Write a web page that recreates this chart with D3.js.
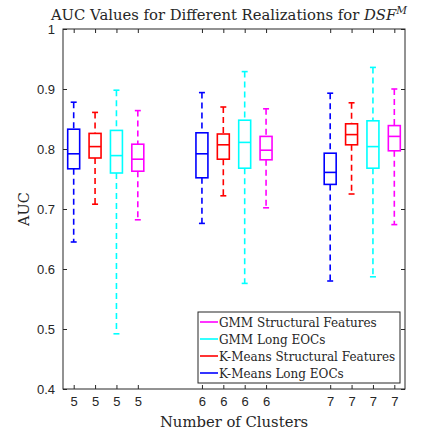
<!DOCTYPE html>
<meta charset="utf-8">
<style>
body { margin: 0; background: #fff; }
.tick text { font-family: "Liberation Sans", Arial, sans-serif; font-size: 13px; fill: #262626; }
.lbl { font-family: "DejaVu Serif", "Liberation Serif", serif; fill: #262626; }
</style>
<svg width="421" height="436"></svg>
<script src="https://d3js.org/d3.v7.min.js"></script>
<script>
var clusters = ["5", "6", "7"];
var series = ["K-Means Long EOCs", "K-Means Structural Features", "GMM Long EOCs", "GMM Structural Features"];
var colors = ["#0000ff", "#ff0000", "#00ffff", "#ff00ff"];
// [lower whisker, q1, median, q3, upper whisker] per cluster, per series
var kmLong = [[0.645, 0.767, 0.792, 0.833, 0.878], [0.676, 0.752, 0.792, 0.827, 0.894], [0.580, 0.741, 0.761, 0.793, 0.893]];
var kmStruct = [[0.708, 0.785, 0.804, 0.826, 0.861], [0.722, 0.783, 0.807, 0.825, 0.870], [0.725, 0.807, 0.824, 0.842, 0.877]];
var gmmLong = [[0.492, 0.760, 0.789, 0.831, 0.898], [0.576, 0.768, 0.811, 0.848, 0.929], [0.587, 0.768, 0.804, 0.847, 0.936]];
var gmmStruct = [[0.682, 0.763, 0.783, 0.808, 0.864], [0.702, 0.782, 0.798, 0.821, 0.867], [0.674, 0.797, 0.821, 0.839, 0.900]];
var yTicks = [0.4, 0.5, 0.6, 0.7, 0.8, 0.9, 1];

var allData = [kmLong, kmStruct, gmmLong, gmmStruct];
var svg = d3.select("svg");
var pl = 63, pr = 405, pt = 29, pb = 389;

var x = d3.scaleLinear().domain([0.5, 16.5]).range([pl, pr]);
var y = d3.scaleLinear().domain([0.4, 1]).range([pb, pt]);

var boxes = [];
clusters.forEach(function(c, ci) {
  series.forEach(function(s, si) {
    var v = allData[si][ci];
    boxes.push({pos: 1 + ci * 6 + si, label: c, color: colors[si], lo: v[0], q1: v[1], med: v[2], q3: v[3], hi: v[4]});
  });
});

// axes
var xAxis = d3.axisBottom(x).tickValues(boxes.map(function(d) { return d.pos; }))
  .tickFormat(function(d, i) { return boxes[i].label; }).tickSizeInner(-4).tickSizeOuter(0).tickPadding(8);
var gx = svg.append("g").attr("transform", "translate(0," + pb + ")").call(xAxis);
var gxt = svg.append("g").attr("transform", "translate(0," + pt + ")")
  .call(d3.axisTop(x).tickValues(boxes.map(function(d) { return d.pos; })).tickFormat("").tickSizeInner(-4).tickSizeOuter(0));
var yAxis = d3.axisLeft(y).tickValues(yTicks).tickFormat(function(d) { return d === 1 ? "1" : d3.format(".1f")(d); })
  .tickSizeInner(-4).tickSizeOuter(0).tickPadding(8);
var gy = svg.append("g").attr("transform", "translate(" + pl + ",0)").call(yAxis);
var gyr = svg.append("g").attr("transform", "translate(" + pr + ",0)")
  .call(d3.axisRight(y).tickValues(yTicks).tickFormat("").tickSizeInner(-4).tickSizeOuter(0));
[gx, gxt, gy, gyr].forEach(function(g) {
  g.selectAll("path, line").attr("stroke", "#262626");
  g.select(".domain").remove();
});
svg.append("rect").attr("x", pl).attr("y", pt).attr("width", pr - pl).attr("height", pb - pt)
  .attr("fill", "none").attr("stroke", "#262626").attr("stroke-width", 1);

// boxes
var bw = 0.56, cw = 0.28;
var g = svg.append("g").selectAll("g").data(boxes).enter().append("g")
  .attr("stroke", function(d) { return d.color; }).attr("fill", "none").attr("stroke-width", 1.6);
g.append("line").attr("x1", function(d) { return x(d.pos); }).attr("x2", function(d) { return x(d.pos); })
  .attr("y1", function(d) { return y(d.hi); }).attr("y2", function(d) { return y(d.q3); }).attr("stroke-dasharray", "6,4");
g.append("line").attr("x1", function(d) { return x(d.pos); }).attr("x2", function(d) { return x(d.pos); })
  .attr("y1", function(d) { return y(d.q1); }).attr("y2", function(d) { return y(d.lo); }).attr("stroke-dasharray", "6,4");
g.append("line").attr("x1", function(d) { return x(d.pos - cw / 2); }).attr("x2", function(d) { return x(d.pos + cw / 2); })
  .attr("y1", function(d) { return y(d.hi); }).attr("y2", function(d) { return y(d.hi); });
g.append("line").attr("x1", function(d) { return x(d.pos - cw / 2); }).attr("x2", function(d) { return x(d.pos + cw / 2); })
  .attr("y1", function(d) { return y(d.lo); }).attr("y2", function(d) { return y(d.lo); });
g.append("rect").attr("x", function(d) { return x(d.pos - bw / 2); }).attr("width", x(bw) - x(0))
  .attr("y", function(d) { return y(d.q3); }).attr("height", function(d) { return y(d.q1) - y(d.q3); });
g.append("line").attr("x1", function(d) { return x(d.pos - bw / 2); }).attr("x2", function(d) { return x(d.pos + bw / 2); })
  .attr("y1", function(d) { return y(d.med); }).attr("y2", function(d) { return y(d.med); });

// title and labels
var title = svg.append("text").attr("class", "lbl").attr("x", 229).attr("y", 20).attr("text-anchor", "middle").attr("font-size", 14.8);
title.append("tspan").text("AUC Values for Different Realizations for ");
title.append("tspan").attr("font-style", "italic").text("DSF");
title.append("tspan").attr("font-style", "italic").attr("font-size", 10.5).attr("dy", -6).text("M");
svg.append("text").attr("class", "lbl").attr("font-size", 14.5).attr("text-anchor", "middle")
  .attr("transform", "translate(29," + y(0.7) + ") rotate(-90)").text("AUC");
svg.append("text").attr("class", "lbl").attr("font-size", 14.8).attr("text-anchor", "middle")
  .attr("x", x(8.5)).attr("y", 427).text("Number of Clusters");

// legend
var lg = svg.append("g").attr("transform", "translate(198,312)");
lg.append("rect").attr("width", 202).attr("height", 71).attr("fill", "#fff").attr("stroke", "#262626").attr("stroke-width", 1);
var items = series.map(function(s, i) { return {name: s, color: colors[i]}; }).reverse();
var li = lg.selectAll("g.item").data(items).enter().append("g").attr("class", "item")
  .attr("transform", function(d, i) { return "translate(0," + (10 + i * 17) + ")"; });
li.append("line").attr("x1", 2).attr("x2", 20).attr("stroke", function(d) { return d.color; }).attr("stroke-width", 1.6);
li.append("text").attr("class", "lbl").attr("x", 21).attr("y", 4.5).attr("font-size", 12).text(function(d) { return d.name; });
</script>
